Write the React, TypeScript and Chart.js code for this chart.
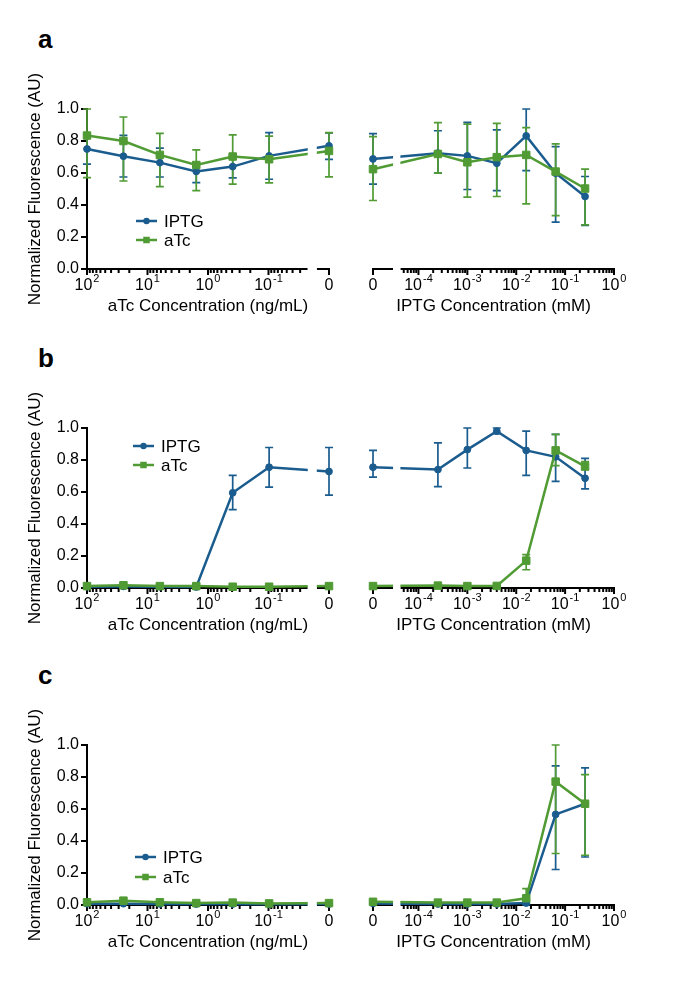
import React, { useEffect, useRef } from "react";
import { Chart, registerables } from "chart.js";

Chart.register(...registerables);

const FAMILY = "'Liberation Sans', Arial, Helvetica, sans-serif";
Chart.defaults.font.family = FAMILY;
const BLUE = "#1b5c8f";
const GREEN = "#509b34";

// ---- x values (concentrations) ----
const ATC_CONC = [100, 25, 6.25, 1.5625, 0.390625, 0.09765625, 0];
const IPTG_CONC = [0, 0.00025, 0.001, 0.004, 0.016, 0.064, 0.256];

// ---- tick labels ----
const Y_TICK_STEP = 0.2;
const ATC_TICKS = [100, 10, 1, 0.1];
const ATC_TICK_EXP = ["2", "1", "0", "-1"];
const IPTG_TICKS = [1e-4, 1e-3, 1e-2, 1e-1, 1];
const IPTG_TICK_EXP = ["-4", "-3", "-2", "-1", "0"];
const ZERO_LABEL = "0";

const SERIES = ["IPTG", "aTc"];
const Y_TITLE = "Normalized Fluorescence (AU)";
const ATC_TITLE = "aTc Concentration (ng/mL)";
const IPTG_TITLE = "IPTG Concentration (mM)";

// ---- panel a ----
const A_L_IPTG = [0.75, 0.705, 0.665, 0.61, 0.64, 0.707, 0.77];
const A_L_IPTG_UP = [0.09, 0.13, 0.09, 0.055, 0.07, 0.145, 0.08];
const A_L_IPTG_DN = [0.095, 0.13, 0.09, 0.07, 0.07, 0.146, 0.085];
const A_L_ATC = [0.834, 0.8, 0.713, 0.65, 0.703, 0.686, 0.738];
const A_L_ATC_UP = [0.166, 0.15, 0.135, 0.094, 0.135, 0.144, 0.114];
const A_L_ATC_DN = [0.263, 0.25, 0.198, 0.16, 0.173, 0.148, 0.162];

const A_R_IPTG = [0.688, 0.724, 0.707, 0.661, 0.832, 0.599, 0.453];
const A_R_IPTG_UP = [0.158, 0.14, 0.21, 0.208, 0.168, 0.166, 0.125];
const A_R_IPTG_DN = [0.158, 0.125, 0.21, 0.171, 0.217, 0.306, 0.181];
const A_R_ATC = [0.624, 0.719, 0.667, 0.699, 0.713, 0.609, 0.503];
const A_R_ATC_UP = [0.203, 0.196, 0.239, 0.211, 0.171, 0.173, 0.121];
const A_R_ATC_DN = [0.196, 0.12, 0.218, 0.246, 0.306, 0.276, 0.227];

// ---- panel b ----
const B_L_IPTG = [0.008, 0.01, 0.008, 0.006, 0.595, 0.755, 0.728];
const B_L_IPTG_UP = [0, 0, 0, 0, 0.109, 0.123, 0.15];
const B_L_IPTG_DN = [0, 0, 0, 0, 0.105, 0.125, 0.148];
const B_L_ATC = [0.012, 0.017, 0.012, 0.012, 0.008, 0.008, 0.012];
const B_L_ATC_UP = [0, 0, 0, 0, 0, 0, 0];
const B_L_ATC_DN = [0, 0, 0, 0, 0, 0, 0];

const B_R_IPTG = [0.755, 0.74, 0.865, 0.98, 0.86, 0.82, 0.686];
const B_R_IPTG_UP = [0.105, 0.167, 0.135, 0.02, 0.12, 0.14, 0.124];
const B_R_IPTG_DN = [0.062, 0.106, 0.115, 0.015, 0.156, 0.154, 0.066];
const B_R_ATC = [0.012, 0.015, 0.012, 0.013, 0.171, 0.86, 0.76];
const B_R_ATC_UP = [0, 0, 0, 0, 0.037, 0.1, 0.03];
const B_R_ATC_DN = [0, 0, 0, 0, 0.057, 0.095, 0.02];

// ---- panel c ----
const C_L_IPTG = [0.008, 0.008, 0.007, 0.006, 0.006, 0.005, 0.006];
const C_L_IPTG_UP = [0, 0, 0, 0, 0, 0, 0];
const C_L_IPTG_DN = [0, 0, 0, 0, 0, 0, 0];
const C_L_ATC = [0.017, 0.027, 0.017, 0.012, 0.015, 0.01, 0.012];
const C_L_ATC_UP = [0, 0, 0, 0, 0, 0, 0];
const C_L_ATC_DN = [0, 0, 0, 0, 0, 0, 0];

const C_R_IPTG = [0.01, 0.006, 0.006, 0.006, 0.012, 0.566, 0.633];
const C_R_IPTG_UP = [0, 0, 0, 0, 0.01, 0.304, 0.224];
const C_R_IPTG_DN = [0, 0, 0, 0, 0.01, 0.344, 0.333];
const C_R_ATC = [0.02, 0.015, 0.015, 0.015, 0.042, 0.771, 0.633];
const C_R_ATC_UP = [0, 0, 0, 0, 0.06, 0.229, 0.182];
const C_R_ATC_DN = [0, 0, 0, 0, 0.03, 0.449, 0.322];

// ---- axis layouts (broken log axes) ----
const LEFT_AXIS = {
  min: 0.01,
  max: 100,
  reverse: true,
  zeroAt: 0.01,
  segments: [
    [0.02333, 100],
    [0.01, 0.01592],
  ],
  mainIndex: 0,
  gap: [0.01592, 0.02333],
  ticks: ATC_TICKS,
  exps: ATC_TICK_EXP,
  title: ATC_TITLE,
  conc: ATC_CONC,
};
const RIGHT_AXIS = {
  min: 1.175e-5,
  max: 1,
  reverse: false,
  zeroAt: 1.175e-5,
  segments: [
    [1.175e-5, 2.884e-5],
    [4.266e-5, 1],
  ],
  mainIndex: 1,
  gap: [2.884e-5, 4.266e-5],
  ticks: IPTG_TICKS,
  exps: IPTG_TICK_EXP,
  title: IPTG_TITLE,
  conc: IPTG_CONC,
};

const ROWS = [
  {
    letter: "a",
    chartTop: 109,
    left: { iptg: [A_L_IPTG, A_L_IPTG_UP, A_L_IPTG_DN], atc: [A_L_ATC, A_L_ATC_UP, A_L_ATC_DN] },
    right: { iptg: [A_R_IPTG, A_R_IPTG_UP, A_R_IPTG_DN], atc: [A_R_ATC, A_R_ATC_UP, A_R_ATC_DN] },
    legend: { dx: 49, dy: 112, gap: 19 },
  },
  {
    letter: "b",
    chartTop: 428,
    left: { iptg: [B_L_IPTG, B_L_IPTG_UP, B_L_IPTG_DN], atc: [B_L_ATC, B_L_ATC_UP, B_L_ATC_DN] },
    right: { iptg: [B_R_IPTG, B_R_IPTG_UP, B_R_IPTG_DN], atc: [B_R_ATC, B_R_ATC_UP, B_R_ATC_DN] },
    legend: { dx: 46, dy: 18, gap: 19 },
  },
  {
    letter: "c",
    chartTop: 745,
    left: { iptg: [C_L_IPTG, C_L_IPTG_UP, C_L_IPTG_DN], atc: [C_L_ATC, C_L_ATC_UP, C_L_ATC_DN] },
    right: { iptg: [C_R_IPTG, C_R_IPTG_UP, C_R_IPTG_DN], atc: [C_R_ATC, C_R_ATC_UP, C_R_ATC_DN] },
    legend: { dx: 48, dy: 112, gap: 20 },
  },
];

const CHART_H = 160;
const PAD_TOP = 50;
const X_AXIS_H = 60;
const CANVAS_H = PAD_TOP + CHART_H + X_AXIS_H;

function drawPow(ctx: CanvasRenderingContext2D, x: number, y: number, base: string, exp: string) {
  ctx.font = `16px ${FAMILY}`;
  const bw = ctx.measureText(base).width;
  ctx.font = `11px ${FAMILY}`;
  const ew = exp ? ctx.measureText(exp).width + 1 : 0;
  const x0 = x - (bw + ew) / 2;
  ctx.textAlign = "left";
  ctx.textBaseline = "alphabetic";
  ctx.font = `16px ${FAMILY}`;
  ctx.fillText(base, x0, y);
  if (exp) {
    ctx.font = `11px ${FAMILY}`;
    ctx.fillText(exp, x0 + bw + 1, y - 8);
  }
}

function drawMarker(ctx: CanvasRenderingContext2D, style: string, x: number, y: number, r: number) {
  ctx.beginPath();
  if (style === "rect") {
    const s = r * Math.SQRT1_2;
    ctx.rect(x - s, y - s, 2 * s, 2 * s);
  } else {
    ctx.arc(x, y, r, 0, Math.PI * 2);
  }
  ctx.fill();
}

const figurePlugin = {
  id: "figure",
  beforeDatasetsDraw(chart: any, _args: any, opts: any) {
    const { ctx, chartArea } = chart;
    const xs = chart.scales.x;
    const ys = chart.scales.y;
    const ax = opts.axis;
    const axisY = chartArea.bottom;
    ctx.save();
    ctx.strokeStyle = "#000";
    ctx.fillStyle = "#000";
    ctx.lineWidth = 2;
    // axis line segments
    ax.segments.forEach((seg: number[], i: number) => {
      const p1 = xs.getPixelForValue(seg[0]);
      const p2 = xs.getPixelForValue(seg[1]);
      let a = Math.min(p1, p2);
      const b = Math.max(p1, p2);
      if (i === ax.mainIndex && opts.isLeft) a -= 1;
      ctx.beginPath();
      ctx.moveTo(a, axisY);
      ctx.lineTo(b + 1, axisY);
      ctx.stroke();
    });
    // ticks
    const tick = (v: number, len: number) => {
      const x = xs.getPixelForValue(v);
      ctx.beginPath();
      ctx.moveTo(x, axisY - 1);
      ctx.lineTo(x, axisY + len);
      ctx.stroke();
    };
    const main = ax.segments[ax.mainIndex];
    const lo = Math.min(main[0], main[1]);
    const hi = Math.max(main[0], main[1]);
    for (let k = Math.floor(Math.log10(lo)); k <= Math.ceil(Math.log10(hi)); k++) {
      for (let m = 1; m <= 9; m++) {
        const v = m * Math.pow(10, k);
        if (v >= lo * 0.99999 && v <= hi * 1.00001) tick(v, m === 1 ? 6 : 4);
      }
    }
    tick(ax.zeroAt, 6);
    // tick labels
    ax.ticks.forEach((v: number, i: number) => {
      drawPow(ctx, xs.getPixelForValue(v), axisY + 20.5, "10", ax.exps[i]);
    });
    drawPow(ctx, xs.getPixelForValue(ax.zeroAt), axisY + 20.5, ZERO_LABEL, "");

    // error bars (drawn beneath lines)
    const metas = chart.getSortedVisibleDatasetMetas().slice().reverse();
    for (const meta of metas) {
      const ds = chart.data.datasets[meta.index];
      ctx.strokeStyle = ds.borderColor;
      ctx.lineWidth = 1.7;
      meta.data.forEach((pt: any, j: number) => {
        const up = ds.errUp[j];
        const dn = ds.errDn[j];
        if (!up && !dn) return;
        const v = ds.data[j].y;
        const yt = ys.getPixelForValue(v + up);
        const yb = ys.getPixelForValue(v - dn);
        const x = pt.x;
        ctx.beginPath();
        ctx.moveTo(x, yt);
        ctx.lineTo(x, yb);
        ctx.moveTo(x - 4, yt);
        ctx.lineTo(x + 4, yt);
        ctx.moveTo(x - 4, yb);
        ctx.lineTo(x + 4, yb);
        ctx.stroke();
      });
    }
    ctx.restore();
  },
  afterDatasetsDraw(chart: any, _args: any, opts: any) {
    const { ctx, chartArea } = chart;
    const xs = chart.scales.x;
    const ax = opts.axis;
    const g1 = xs.getPixelForValue(ax.gap[0]);
    const g2 = xs.getPixelForValue(ax.gap[1]);
    ctx.save();
    ctx.fillStyle = "#fff";
    ctx.fillRect(Math.min(g1, g2) + 1, chartArea.top - 10, Math.abs(g2 - g1) - 1, chartArea.bottom - chartArea.top + 14);
    // legend
    const lg = opts.legend;
    if (lg) {
      const order = [1, 0];
      order.forEach((di, row) => {
        const ds = chart.data.datasets[di];
        const y = chartArea.top + lg.dy + row * lg.gap;
        const x0 = chartArea.left + lg.dx;
        ctx.strokeStyle = ds.borderColor;
        ctx.fillStyle = ds.borderColor;
        ctx.lineWidth = 2.5;
        ctx.beginPath();
        ctx.moveTo(x0, y);
        ctx.lineTo(x0 + 21, y);
        ctx.stroke();
        drawMarker(ctx, ds.pointStyle, x0 + 10.5, y, ds.pointStyle === "rect" ? 4.6 : 3.2);
        ctx.fillStyle = "#000";
        ctx.font = `17px ${FAMILY}`;
        ctx.textAlign = "left";
        ctx.textBaseline = "middle";
        ctx.fillText(ds.label, x0 + 28, y + 1);
      });
    }
    ctx.restore();
  },
};

function buildConfig(row: any, isLeft: boolean) {
  const ax = isLeft ? LEFT_AXIS : RIGHT_AXIS;
  const side = isLeft ? row.left : row.right;
  const pts = (vals: number[]) =>
    ax.conc.map((c: number, i: number) => ({ x: c === 0 ? ax.zeroAt : c, y: vals[i] }));
  const datasets = [
    {
      label: SERIES[1],
      data: pts(side.atc[0]),
      errUp: side.atc[1],
      errDn: side.atc[2],
      borderColor: GREEN,
      backgroundColor: GREEN,
      pointBackgroundColor: GREEN,
      pointBorderColor: GREEN,
      pointStyle: "rect",
      pointRadius: 5.3,
      pointBorderWidth: 1,
      borderWidth: 2.5,
      tension: 0,
      clip: false,
      order: 0,
    },
    {
      label: SERIES[0],
      data: pts(side.iptg[0]),
      errUp: side.iptg[1],
      errDn: side.iptg[2],
      borderColor: BLUE,
      backgroundColor: BLUE,
      pointBackgroundColor: BLUE,
      pointBorderColor: BLUE,
      pointStyle: "circle",
      pointRadius: 3.4,
      pointBorderWidth: 1,
      borderWidth: 2.5,
      tension: 0,
      clip: false,
      order: 1,
    },
  ];
  const yScale: any = {
    type: "linear",
    min: 0,
    max: 1,
    display: isLeft,
    ticks: {
      stepSize: Y_TICK_STEP,
      callback: (v: any) => Number(v).toFixed(1),
      color: "#000",
      font: { size: 16, family: FAMILY },
      padding: 2,
    },
    grid: {
      display: true,
      drawOnChartArea: false,
      drawTicks: true,
      tickLength: 6,
      color: "#000",
      lineWidth: 2,
    },
    border: { display: true, color: "#000", width: 2 },
    title: {
      display: true,
      text: Y_TITLE,
      color: "#000",
      font: { size: 17, family: FAMILY },
      padding: { top: 25, bottom: 0 },
    },
  };
  if (isLeft) {
    yScale.afterFit = (s: any) => {
      s.width = 87;
    };
  }
  return {
    type: "line",
    data: { datasets },
    plugins: [figurePlugin],
    options: {
      responsive: false,
      animation: false,
      events: [],
      layout: {
        padding: isLeft
          ? { left: 0, right: 16, top: PAD_TOP, bottom: 0 }
          : { left: 28, right: 71, top: PAD_TOP, bottom: 0 },
      },
      plugins: {
        legend: { display: false },
        tooltip: { enabled: false },
        figure: { axis: ax, isLeft, legend: isLeft ? row.legend : null },
      },
      scales: {
        x: {
          type: "logarithmic",
          min: ax.min,
          max: ax.max,
          reverse: ax.reverse,
          afterFit: (s: any) => {
            s.height = X_AXIS_H;
          },
          grid: { display: false, drawTicks: false },
          border: { display: false },
          ticks: { display: false },
          title: {
            display: true,
            text: ax.title,
            color: "#000",
            font: { size: 17, family: FAMILY },
            padding: { top: 0, bottom: 12 },
          },
        },
        y: yScale,
      },
    },
  };
}

function SubChart({ row, isLeft }: { row: any; isLeft: boolean }) {
  const ref = useRef<HTMLCanvasElement | null>(null);
  useEffect(() => {
    if (!ref.current) return;
    const chart = new Chart(ref.current, buildConfig(row, isLeft) as any);
    return () => chart.destroy();
  }, [row, isLeft]);
  const width = isLeft ? 345 : 340;
  return (
    <canvas
      ref={ref}
      width={width}
      height={CANVAS_H}
      style={{
        position: "absolute",
        left: isLeft ? 0 : 345,
        top: row.chartTop - PAD_TOP,
        width,
        height: CANVAS_H,
      }}
    />
  );
}

export default function App() {
  return (
    <div
      style={{
        position: "absolute",
        left: 0,
        top: 0,
        width: 685,
        height: 982,
        background: "#fff",
        overflow: "hidden",
        fontFamily: FAMILY,
      }}
    >
      {ROWS.map((row) => (
        <React.Fragment key={row.letter}>
          <div
            style={{
              position: "absolute",
              left: 38,
              top: row.chartTop - 83,
              fontSize: 26,
              fontWeight: "bold",
              lineHeight: "26px",
              color: "#000",
            }}
          >
            {row.letter}
          </div>
          <SubChart row={row} isLeft={true} />
          <SubChart row={row} isLeft={false} />
        </React.Fragment>
      ))}
    </div>
  );
}
